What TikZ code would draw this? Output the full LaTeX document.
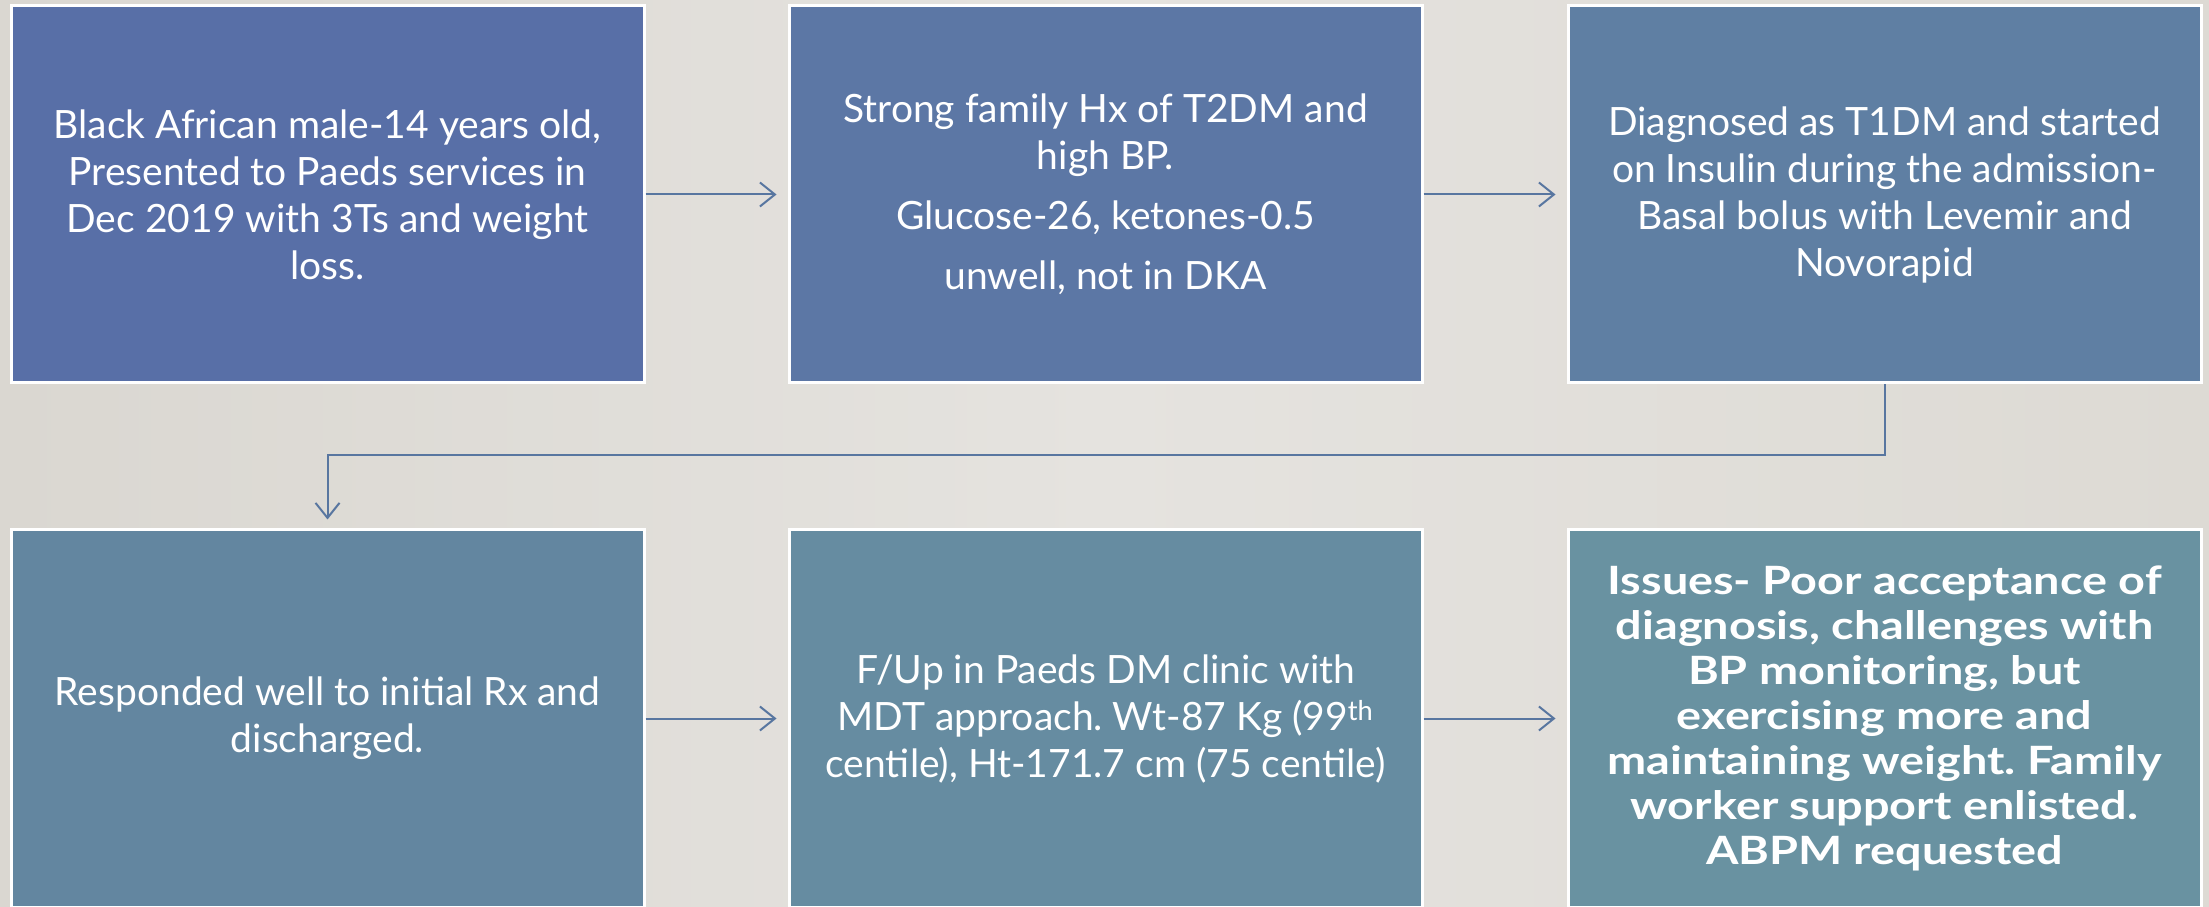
\documentclass[tikz,border=0pt]{standalone}
\usepackage{fontspec}
\setmainfont{Lato}
\newfontfamily\wideboldfont{Lato}[FakeStretch=1.2]
\frenchspacing
\usetikzlibrary{arrows.meta}
\definecolor{bgL}{RGB}{218,215,209}
\definecolor{bgM}{RGB}{229,227,223}
\definecolor{bgR}{RGB}{221,218,212}
\definecolor{cA}{RGB}{88,111,167}
\definecolor{cB}{RGB}{92,119,165}
\definecolor{cC}{RGB}{95,127,163}
\definecolor{cD}{RGB}{99,134,160}
\definecolor{cE}{RGB}{102,140,161}
\definecolor{cF}{RGB}{105,146,161}
\definecolor{arrowc}{RGB}{88,118,160}
\begin{document}
\begin{tikzpicture}[x=1pt,y=1pt,
  box/.style={draw=white, line width=3pt, minimum width=633pt, minimum height=377pt,
    inner sep=0pt, text=white, align=center, font=\fontsize{39}{47}\selectfont},
  conn/.style={draw=arrowc, line width=2pt,
    -{Straight Barb[length=15pt,width=24pt,line width=2pt]}}]
\useasboundingbox (0,0) rectangle (2209,906);
\shade[left color=bgL, right color=bgR, middle color=bgM] (0,0) rectangle (2209,906);
\node[box, fill=cA] (b1) at (327.5,711.5) {Black African male-14 years old,\\Presented to Paeds services in\\Dec 2019 with 3Ts and weight\\loss.};
\node[box, fill=cB] (b2) at (1105.5,711.5) {Strong family Hx of T2DM and\\high BP.\\[13pt]Glucose-26, ketones-0.5\\[13pt]unwell, not in DKA};
\node[box, fill=cC] (b3) at (1884.5,711.5) {Diagnosed as T1DM and started\\on Insulin during the admission-\\Basal bolus with Levemir and\\Novorapid};
\node[box, fill=cD] (b4) at (327.5,187.5) {Responded well to initial Rx and\\discharged.};
\node[box, fill=cE] (b5) at (1105.5,187.5) {F/Up in Paeds DM clinic with\\MDT approach. Wt-87 Kg (99\textsuperscript{th}\\centile), Ht-171.7 cm (75 centile)};
\node[box, fill=cF, font=\wideboldfont\bfseries\fontsize{39}{45}\selectfont] (b6) at (1884.5,187.5) {Issues- Poor acceptance of\\diagnosis, challenges with\\BP monitoring, but\\exercising more and\\maintaining weight. Family\\worker support enlisted.\\ABPM requested};
\draw[conn, shorten >=11pt] (b1.east) -- (b2.west);
\draw[conn, shorten >=11pt] (b2.east) -- (b3.west);
\coordinate (k1) at (1884.5,451);
\draw[conn, shorten >=9pt] (b3.south) -- (k1) -| (b4.north);
\draw[conn, shorten >=11pt] (b4.east) -- (b5.west);
\draw[conn, shorten >=11pt] (b5.east) -- (b6.west);
\end{tikzpicture}
\end{document}
